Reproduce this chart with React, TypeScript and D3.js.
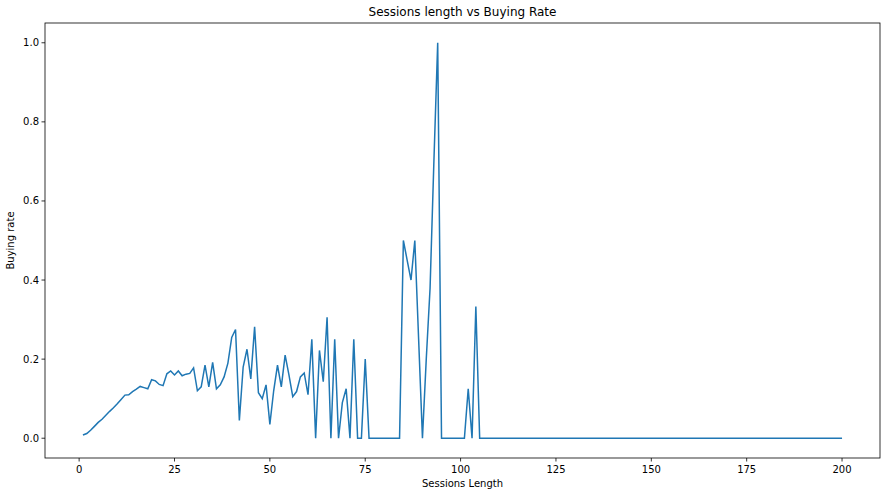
import React from "react";
import * as d3 from "d3";

const lengths = [
  1, 2, 3, 4, 5, 6, 7, 8, 9, 10, 11, 12, 13, 14, 15, 16, 17, 18, 19, 20,
  21, 22, 23, 24, 25, 26, 27, 28, 29, 30, 31, 32, 33, 34, 35, 36, 37, 38, 39, 40,
  41, 42, 43, 44, 45, 46, 47, 48, 49, 50, 51, 52, 53, 54, 55, 56, 57, 58, 59, 60,
  61, 62, 63, 64, 65, 66, 67, 68, 69, 70, 71, 72, 73, 74, 75, 76, 77, 78, 79, 80,
  81, 82, 83, 84, 85, 86, 87, 88, 89, 90, 91, 92, 93, 94, 95, 96, 97, 98, 99, 100,
  101, 102, 103, 104, 105, 200,
];
const rates = [
  0.008, 0.012, 0.02, 0.03, 0.04, 0.048, 0.058, 0.068, 0.077, 0.087, 0.098, 0.109, 0.11, 0.118, 0.124, 0.131, 0.128, 0.125, 0.148, 0.145,
  0.136, 0.133, 0.163, 0.17, 0.16, 0.17, 0.158, 0.162, 0.164, 0.178, 0.12, 0.13, 0.185, 0.13, 0.192, 0.125, 0.135, 0.155, 0.19, 0.255,
  0.275, 0.045, 0.18, 0.225, 0.15, 0.282, 0.115, 0.1, 0.135, 0.035, 0.12, 0.185, 0.13, 0.21, 0.16, 0.105, 0.118, 0.155, 0.165, 0.11,
  0.25, 0.0, 0.222, 0.143, 0.306, 0.0, 0.25, 0.0, 0.09, 0.125, 0.0, 0.25, 0.0, 0.0, 0.2, 0.0, 0.0, 0.0, 0.0, 0.0,
  0.0, 0.0, 0.0, 0.0, 0.5, 0.45, 0.4, 0.5, 0.25, 0.0, 0.2, 0.38, 0.7, 1.0, 0.0, 0.0, 0.0, 0.0, 0.0, 0.0,
  0.0, 0.125, 0.0, 0.333, 0.0, 0.0,
];
const xTicks = [0, 25, 50, 75, 100, 125, 150, 175, 200];
const yTicks = [0, 0.2, 0.4, 0.6, 0.8, 1.0];

export default function App() {
  const width = 888;
  const height = 496;
  const left = 45;
  const right = 880;
  const top = 23;
  const bottom = 458;

  const x = d3.scaleLinear().domain([-8.95, 209.95]).range([left, right]);
  const y = d3.scaleLinear().domain([-0.05, 1.05]).range([bottom, top]);

  const line = d3
    .line<number>()
    .x((_, i) => x(lengths[i]))
    .y((d) => y(d));

  const font = "DejaVu Sans, sans-serif";

  return (
    <svg
      width={width}
      height={height}
      style={{ position: "absolute", top: 0, left: 0, background: "#fff" }}
      fontFamily={font}
    >
      <rect x={0} y={0} width={width} height={height} fill="#fff" />
      <path d={line(rates) ?? ""} fill="none" stroke="#1f77b4" strokeWidth={1.5} />
      <rect x={left} y={top} width={right - left} height={bottom - top} fill="none" stroke="#000" strokeWidth={0.8} />
      {xTicks.map((t) => (
        <g key={`x-${t}`}>
          <line x1={x(t)} x2={x(t)} y1={bottom} y2={bottom + 3.5} stroke="#000" strokeWidth={0.8} />
          <text x={x(t)} y={bottom + 15} fontSize={10} textAnchor="middle">
            {t}
          </text>
        </g>
      ))}
      {yTicks.map((t) => (
        <g key={`y-${t}`}>
          <line x1={left - 3.5} x2={left} y1={y(t)} y2={y(t)} stroke="#000" strokeWidth={0.8} />
          <text x={left - 6} y={y(t)} fontSize={10} textAnchor="end" dominantBaseline="central">
            {t.toFixed(1)}
          </text>
        </g>
      ))}
      <text x={(left + right) / 2} y={16} fontSize={12} textAnchor="middle">
        Sessions length vs Buying Rate
      </text>
      <text x={(left + right) / 2} y={487} fontSize={10} textAnchor="middle">
        Sessions Length
      </text>
      <text
        transform={`translate(14,${(top + bottom) / 2}) rotate(-90)`}
        fontSize={10}
        textAnchor="middle"
      >
        Buying rate
      </text>
    </svg>
  );
}
